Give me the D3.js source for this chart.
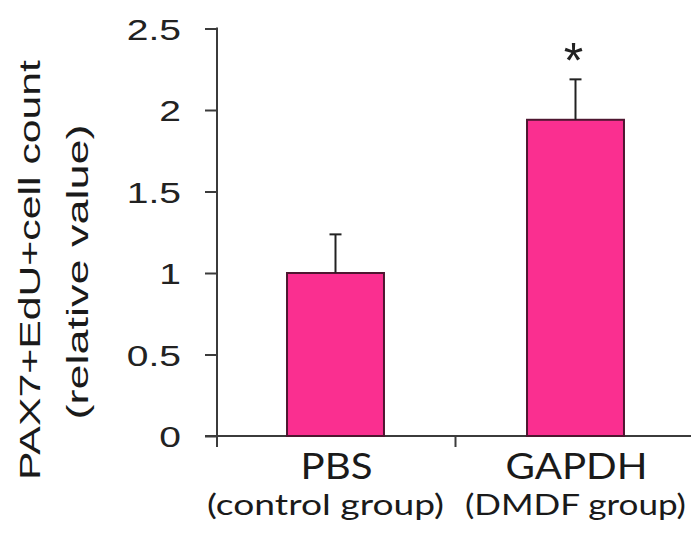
<!DOCTYPE html>
<html>
<head>
<meta charset="utf-8">
<script src="https://cdn.jsdelivr.net/npm/d3@7"></script>
<style>
  body { margin: 0; background: #fff; }
</style>
</head>
<body>
<div id="chart"></div>
<script>
  // data
  const groups = ["PBS", "GAPDH"];
  const subLabels = ["(control group)", "(DMDF group)"];
  const means = [1.0, 1.94];
  const errors = [0.237, 0.248];
  const stars = ["", "*"];
  const yTicks = [0, 0.5, 1, 1.5, 2, 2.5];

  const width = 691, height = 535;

  const svg = d3.select("#chart")
    .append("svg")
    .attr("width", width)
    .attr("height", height)
    .style("background", "#fff");

  const y = d3.scaleLinear().domain([0, 2.5]).range([436, 28.5]);
  const x = d3.scaleBand().domain(groups).range([215.5, 695.5])
    .paddingInner(0.596).paddingOuter(0.298);

  const axisColor = "#3b3b3b";

  // y axis
  const yAxis = svg.append("g")
    .attr("transform", "translate(217,0)")
    .call(d3.axisLeft(y).tickValues(yTicks).tickSize(12).tickSizeOuter(0).tickFormat(d3.format("")));
  yAxis.select(".domain").remove();
  yAxis.selectAll(".tick line").attr("stroke", axisColor).attr("stroke-width", 2);
  yAxis.selectAll(".tick text")
    .attr("fill", "#222")
    .style("font-family", "'Liberation Sans', Arial, sans-serif")
    .style("font-size", "30px")
    .attr("x", -36 / 1.3)
    .attr("dy", "0.36em")
    .attr("transform", "scale(1.3,1)");
  svg.append("line")
    .attr("x1", 217).attr("x2", 217)
    .attr("y1", y(2.5) - 1).attr("y2", 447)
    .attr("stroke", axisColor).attr("stroke-width", 2);

  // x axis
  svg.append("line")
    .attr("x1", 205).attr("x2", width)
    .attr("y1", y(0)).attr("y2", y(0))
    .attr("stroke", axisColor).attr("stroke-width", 2);
  // tick between the two groups
  groups.slice(1).forEach(g => {
    const bx = x(g) - x.step() * x.paddingInner() / 2;
    svg.append("line")
      .attr("x1", bx).attr("x2", bx)
      .attr("y1", y(0)).attr("y2", y(0) + 11)
      .attr("stroke", axisColor).attr("stroke-width", 2);
  });

  // bars
  svg.selectAll("rect.bar")
    .data(groups)
    .join("rect")
    .attr("class", "bar")
    .attr("x", d => x(d))
    .attr("width", x.bandwidth())
    .attr("y", (d, i) => y(means[i]))
    .attr("height", (d, i) => y(0) - y(means[i]))
    .attr("fill", "#fa2f90")
    .attr("stroke", "#4e1630")
    .attr("stroke-width", 2);

  // error bars (upper only)
  groups.forEach((g, i) => {
    const cx = x(g) + x.bandwidth() / 2;
    svg.append("line")
      .attr("x1", cx).attr("x2", cx)
      .attr("y1", y(means[i])).attr("y2", y(means[i] + errors[i]))
      .attr("stroke", "#222").attr("stroke-width", 2);
    svg.append("line")
      .attr("x1", cx - 6).attr("x2", cx + 6)
      .attr("y1", y(means[i] + errors[i])).attr("y2", y(means[i] + errors[i]))
      .attr("stroke", "#222").attr("stroke-width", 2);
    if (stars[i]) {
      svg.append("text")
        .attr("x", cx - 2)
        .attr("y", y(means[i] + errors[i]) - 1)
        .attr("text-anchor", "middle")
        .style("font-family", "'Liberation Sans', Arial, sans-serif")
        .style("font-size", "50px")
        .attr("fill", "#222")
        .text(stars[i]);
    }
  });

  // category labels
  const mainLen = [72, 142];
  const subLen = [237, 221];
  const subShift = [-10, 0];
  groups.forEach((g, i) => {
    const cx = x(g) + x.bandwidth() / 2;
    svg.append("text")
      .attr("x", cx + 1)
      .attr("y", 479)
      .attr("text-anchor", "middle")
      .attr("textLength", mainLen[i])
      .attr("lengthAdjust", "spacingAndGlyphs")
      .style("font-family", "Lato, sans-serif")
      .style("font-size", "36px")
      .attr("fill", "#1a1a1a")
      .text(g);
    svg.append("text")
      .attr("x", cx + subShift[i])
      .attr("y", 515)
      .attr("text-anchor", "middle")
      .attr("textLength", subLen[i])
      .attr("lengthAdjust", "spacingAndGlyphs")
      .style("font-family", "Lato, sans-serif")
      .style("font-size", "28px")
      .attr("fill", "#1a1a1a")
      .text(subLabels[i]);
  });

  // y axis title, two lines
  svg.append("text")
    .attr("transform", "translate(40,270) rotate(-90)")
    .attr("text-anchor", "middle")
    .attr("textLength", 420)
    .attr("lengthAdjust", "spacingAndGlyphs")
    .style("font-family", "'Liberation Sans', Arial, sans-serif")
    .style("font-size", "30px")
    .attr("fill", "#1a1a1a")
    .text("PAX7+EdU+cell count");
  svg.append("text")
    .attr("transform", "translate(88,272) rotate(-90)")
    .attr("text-anchor", "middle")
    .attr("textLength", 295)
    .attr("lengthAdjust", "spacingAndGlyphs")
    .style("font-family", "'Liberation Sans', Arial, sans-serif")
    .style("font-size", "30px")
    .attr("fill", "#1a1a1a")
    .text("(relative value)");
</script>
</body>
</html>
